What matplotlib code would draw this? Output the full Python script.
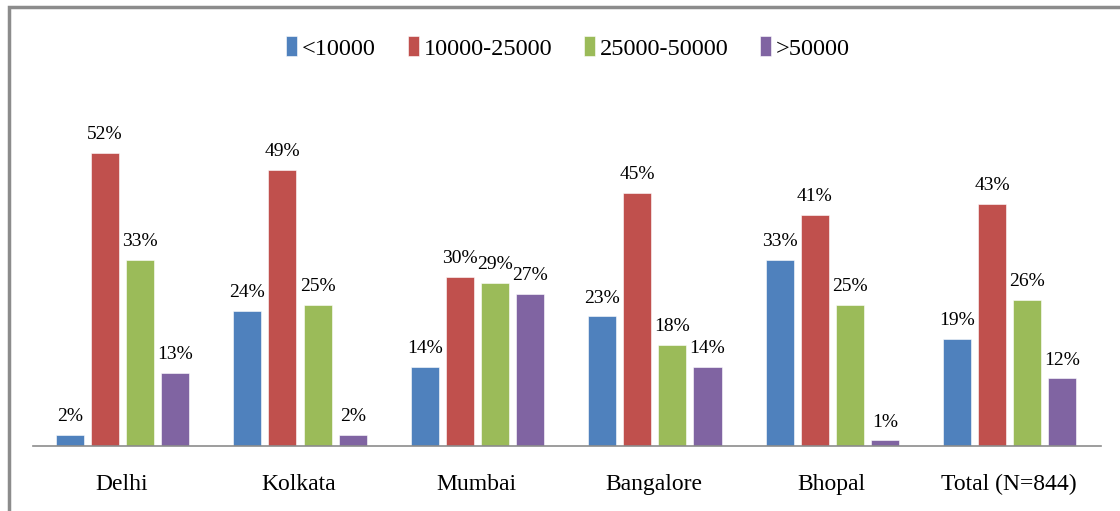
import matplotlib
matplotlib.use("Agg")
import matplotlib.pyplot as plt
import numpy as np
from matplotlib.patches import Rectangle

categories = ["Delhi", "Kolkata", "Mumbai", "Bangalore", "Bhopal", "Total (N=844)"]
series_names = ["<10000", "10000-25000", "25000-50000", ">50000"]
lt_10000 = [2, 24, 14, 23, 33, 19]
r10_25 = [52, 49, 30, 45, 41, 43]
r25_50 = [33, 25, 29, 18, 25, 26]
gt_50000 = [13, 2, 27, 14, 1, 12]
colors = ["#4F81BD", "#C0504D", "#9BBB59", "#8064A2"]

plt.rcParams['font.family'] = ['Liberation Serif', 'DejaVu Serif']

fig = plt.figure(figsize=(11.2, 5.11), dpi=100)
ax = fig.add_axes([33/1120, 1-446/511, 1068/1120, 338/511])

x = np.arange(len(categories))
pitch = 0.198
width = 0.158
data = [lt_10000, r10_25, r25_50, gt_50000]
for i, (vals, name, c) in enumerate(zip(data, series_names, colors)):
    pos = x + (i - 1.5) * pitch + 0.005
    ax.bar(pos, vals, width, color=c, label=name, edgecolor='white', linewidth=0.4)
    for xp, v in zip(pos, vals):
        ax.annotate(f"{v}%", (xp, v), xytext=(0, 7), textcoords='offset points',
                    ha='center', va='bottom', fontsize=14)

ax.set_xlim(-0.5, 5.52)
ax.set_ylim(0, 60)
ax.set_xticks(x)
ax.set_xticklabels(categories, fontsize=17)
ax.tick_params(axis='x', length=0, pad=20)
ax.set_yticks([])
for s in ['top', 'right', 'left']:
    ax.spines[s].set_visible(False)
ax.spines['bottom'].set_color('#8C8C8C')
ax.spines['bottom'].set_linewidth(1.2)

leg = fig.legend(loc='center', bbox_to_anchor=(568/1120, 1-48/511), ncol=4, frameon=False,
                 fontsize=17.5, handlelength=0.45, handleheight=0.9, handletextpad=0.2,
                 columnspacing=1.3)

border = Rectangle((9/1120, -0.05), 1.2, 1-7/511+0.05, transform=fig.transFigure,
                   fill=False, edgecolor='#8C8C8C', linewidth=2.5, clip_on=False)
fig.add_artist(border)

fig.savefig("out.png", dpi=100)
